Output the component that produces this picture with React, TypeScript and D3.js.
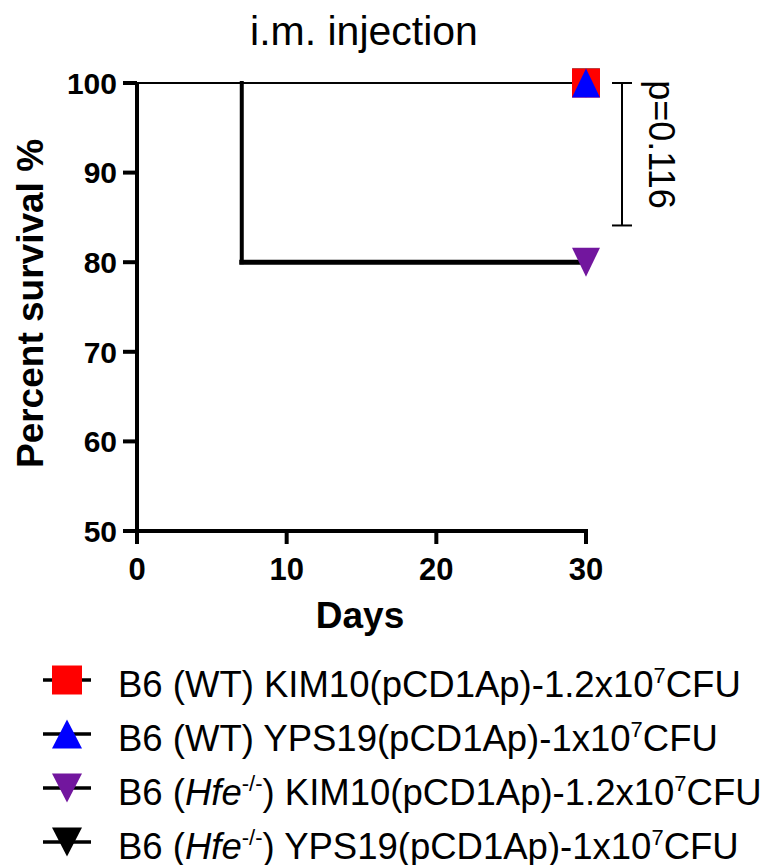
import React from "react";
import * as d3 from "d3";

const title = "i.m. injection";
const xLabel = "Days";
const yLabel = "Percent survival %";
const xTicks = [0, 10, 20, 30];
const yTicks = [50, 60, 70, 80, 90, 100];
const pValueLabel = "p=0.116";
const pBracket = [100, 84.1];

const seriesNames = ["wtKim", "wtYps", "hfeKim", "hfeYps"];
const seriesTimes = [
  [0, 30],
  [0, 30],
  [0, 7, 30],
  [0, 30],
];
const seriesSurvival = [
  [100, 100],
  [100, 100],
  [100, 80, 80],
  [100, 100],
];
const seriesColors = ["#ff0000", "#0000ff", "#72169e", "#000000"];
const seriesShapes = ["square", "up", "down", "down"];
const drawOrder = [3, 2, 0, 1];

const FONT = "'Liberation Sans', Arial, Helvetica, sans-serif";

function markerPath(shape: string, cx: number, cy: number, w: number, h: number) {
  const hw = w / 2;
  const hh = h / 2;
  if (shape === "square") {
    return `M${cx - hw},${cy - hh}H${cx + hw}V${cy + hh}H${cx - hw}Z`;
  }
  if (shape === "up") {
    return `M${cx},${cy - hh}L${cx + hw},${cy + hh}L${cx - hw},${cy + hh}Z`;
  }
  return `M${cx - hw},${cy - hh}L${cx + hw},${cy - hh}L${cx},${cy + hh}Z`;
}

function LegendLabel({ i }: { i: number }) {
  const sup = (t: string) => (
    <tspan fontSize={22} dy={-14}>{t}</tspan>
  );
  const down = (t: string) => <tspan dy={14}>{t}</tspan>;
  if (i === 0)
    return (
      <>
        <tspan>B6 (WT) KIM10(pCD1Ap)-1.2x10</tspan>
        {sup("7")}
        {down("CFU")}
      </>
    );
  if (i === 1)
    return (
      <>
        <tspan>B6 (WT) YPS19(pCD1Ap)-1x10</tspan>
        {sup("7")}
        {down("CFU")}
      </>
    );
  if (i === 2)
    return (
      <>
        <tspan>B6 (</tspan>
        <tspan fontStyle="italic">Hfe</tspan>
        {sup("-/-")}
        {down(") KIM10(pCD1Ap)-1.2x10")}
        {sup("7")}
        {down("CFU")}
      </>
    );
  return (
    <>
      <tspan>B6 (</tspan>
      <tspan fontStyle="italic">Hfe</tspan>
      {sup("-/-")}
      {down(") YPS19(pCD1Ap)-1x10")}
      {sup("7")}
      {down("CFU")}
    </>
  );
}

export default function App() {
  const x = d3.scaleLinear().domain([0, 30]).range([137, 586]);
  const y = d3.scaleLinear().domain([50, 100]).range([531, 83]);

  const segments: { x1: number; y1: number; x2: number; y2: number; w: number }[] = [];
  seriesNames.forEach((_, si) => {
    const t = seriesTimes[si];
    const s = seriesSurvival[si];
    for (let k = 0; k < t.length - 1; k++) {
      const thick = s[k] < 100;
      segments.push({ x1: x(t[k]), y1: y(s[k]), x2: x(t[k + 1]), y2: y(s[k]), w: thick ? 5 : 1.5 });
      if (s[k + 1] !== s[k]) {
        segments.push({ x1: x(t[k + 1]), y1: y(s[k]), x2: x(t[k + 1]), y2: y(s[k + 1]), w: 4 });
      }
    }
  });

  const legendY0 = 680;
  const legendStep = 54;

  return (
    <svg
      width={781}
      height={865}
      style={{ position: "absolute", left: 0, top: 0, background: "#fff" }}
      fontFamily={FONT}
    >
      <rect x={0} y={0} width={781} height={865} fill="#fff" />
      <text x={364} y={45} textAnchor="middle" fontSize={41} fill="#000">
        {title}
      </text>

      {segments.map((sg, i) => (
        <line
          key={i}
          x1={sg.x1}
          y1={sg.y1}
          x2={sg.x2}
          y2={sg.y2}
          stroke="#000"
          strokeWidth={sg.w}
          strokeLinecap="square"
        />
      ))}

      <line x1={137} y1={y(100) - 1} x2={137} y2={y(50) + 2} stroke="#000" strokeWidth={4} />
      <line x1={135} y1={y(50)} x2={x(30) + 2} y2={y(50)} stroke="#000" strokeWidth={4} />
      {yTicks.map((v) => (
        <g key={"y" + v}>
          <line x1={123} x2={137} y1={y(v)} y2={y(v)} stroke="#000" strokeWidth={4} />
          <text x={117} y={y(v) + 10.8} textAnchor="end" fontSize={30} fontWeight="bold">
            {v}
          </text>
        </g>
      ))}
      {xTicks.map((v) => (
        <g key={"x" + v}>
          <line x1={x(v)} x2={x(v)} y1={y(50)} y2={544} stroke="#000" strokeWidth={4} />
          <text x={x(v)} y={580} textAnchor="middle" fontSize={31} fontWeight="bold">
            {v}
          </text>
        </g>
      ))}
      <text x={360} y={628} textAnchor="middle" fontSize={37} fontWeight="bold">
        {xLabel}
      </text>
      <text
        transform="translate(43,303.5) rotate(-90)"
        textAnchor="middle"
        fontSize={37}
        fontWeight="bold"
      >
        {yLabel}
      </text>

      {drawOrder.map((si) => {
        const t = seriesTimes[si];
        const s = seriesSurvival[si];
        const cx = x(t[t.length - 1]);
        const cy = y(s[s.length - 1]);
        return (
          <path key={"m" + si} d={markerPath(seriesShapes[si], cx, cy, 28, 29)} fill={seriesColors[si]} />
        );
      })}

      <g stroke="#000" strokeWidth={2}>
        <line x1={622} x2={622} y1={y(pBracket[0])} y2={y(pBracket[1])} />
        <line x1={612} x2={632} y1={y(pBracket[0])} y2={y(pBracket[0])} />
        <line x1={612} x2={632} y1={y(pBracket[1])} y2={y(pBracket[1])} />
      </g>
      <text
        transform="translate(649,144.5) rotate(90)"
        textAnchor="middle"
        fontSize={36}
      >
        {pValueLabel}
      </text>

      {seriesNames.map((_, i) => {
        const cy = legendY0 + i * legendStep;
        return (
          <g key={"lg" + i}>
            <line x1={43} x2={91} y1={cy} y2={cy} stroke="#000" strokeWidth={3.5} />
            <path d={markerPath(seriesShapes[i], 67, cy, 30, 29)} fill={seriesColors[i]} />
            <text x={118} y={cy + 17} fontSize={36.5} fill="#000">
              <LegendLabel i={i} />
            </text>
          </g>
        );
      })}
    </svg>
  );
}
